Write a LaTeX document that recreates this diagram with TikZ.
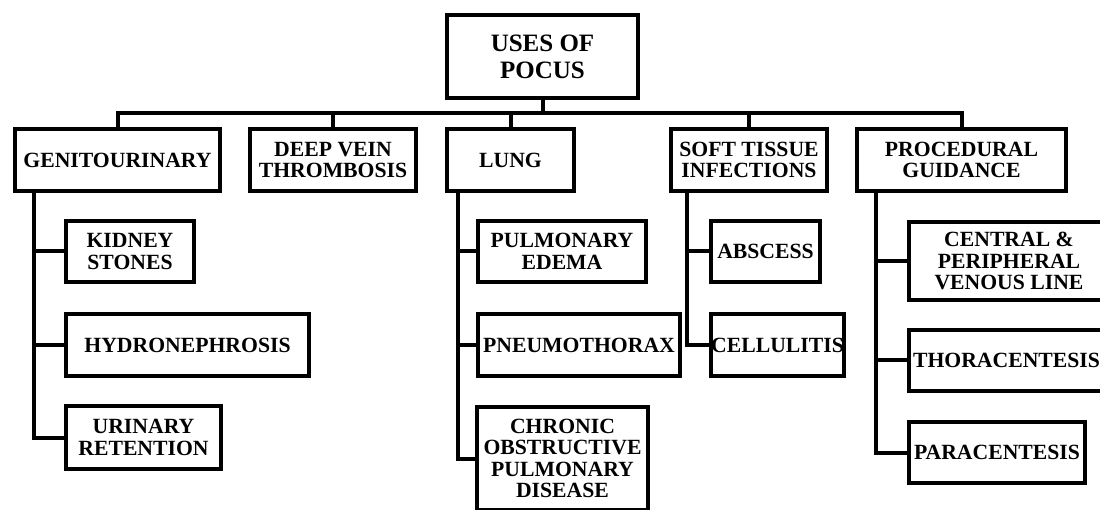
\documentclass[tikz,border=0pt]{standalone}
\usepackage{fontspec}
\setmainfont{Liberation Serif}
\usepackage{tikz}

\tikzset{
  box/.style={draw, line width=4pt, inner sep=0pt, align=center,
    font=\bfseries\fontsize{21.7}{21.5}\selectfont},
  link/.style={line width=4pt}
}

\begin{document}
\begin{tikzpicture}[x=1pt, y=-1pt]
\useasboundingbox (0,0) rectangle (1100,510);

% root
\node[box, minimum width=191, minimum height=83,
  font=\bfseries\fontsize{25}{27}\selectfont] (root) at (542.5,56.5) {USES OF\\POCUS};

% first level
\node[box, minimum width=205, minimum height=62] (gen) at (117.5,160) {GENITOURINARY};
\node[box, minimum width=166, minimum height=62] (dvt) at (333,160) {DEEP VEIN\\THROMBOSIS};
\node[box, minimum width=127, minimum height=62] (lung) at (510.5,160) {LUNG};
\node[box, minimum width=156, minimum height=62] (soft) at (749,160) {SOFT TISSUE\\INFECTIONS};
\node[box, minimum width=209, minimum height=62] (proc) at (961.5,160) {PROCEDURAL\\GUIDANCE};

\coordinate (bus) at (542.5,113);
\foreach \n in {gen,dvt,lung,soft,proc}
  \draw[link] (root.south) -- (root.south |- bus) -| (\n.north);

% genitourinary
\node[box, minimum width=128, minimum height=61] (kidney) at (130,251.5) {KIDNEY\\STONES};
\node[box, minimum width=243, minimum height=62] (hydro) at (187.5,345) {HYDRONEPHROSIS};
\node[box, minimum width=155, minimum height=63] (urinary) at (143.5,437.5) {URINARY\\RETENTION};

% lung
\node[box, minimum width=168, minimum height=61] (edema) at (562,251.5) {PULMONARY\\EDEMA};
\node[box, minimum width=202, minimum height=62] (pneumo) at (579,345) {PNEUMOTHORAX};
\node[box, minimum width=171, minimum height=103] (copd) at (562.5,458.5) {CHRONIC\\OBSTRUCTIVE\\PULMONARY\\DISEASE};

% soft tissue
\node[box, minimum width=109, minimum height=61] (abscess) at (765.5,251.5) {ABSCESS};
\node[box, minimum width=133, minimum height=62] (cellulitis) at (777.5,345) {CELLULITIS};

% procedures
\node[box, minimum width=200, minimum height=78] (venous) at (1009,261) {CENTRAL \&\\PERIPHERAL\\VENOUS LINE};
\node[box, minimum width=195, minimum height=61] (thora) at (1006.5,360.5) {THORACENTESIS};
\node[box, minimum width=176, minimum height=61] (para) at (997,452.5) {PARACENTESIS};

\coordinate (gtrunk) at (34,191);
\coordinate (ltrunk) at (458,191);
\coordinate (strunk) at (687,191);
\coordinate (ptrunk) at (876,191);

\foreach \c in {kidney,hydro,urinary}
  \draw[link] (gtrunk) |- (\c.west);
\foreach \c in {edema,pneumo,copd}
  \draw[link] (ltrunk) |- (\c.west);
\foreach \c in {abscess,cellulitis}
  \draw[link] (strunk) |- (\c.west);
\foreach \c in {venous,thora,para}
  \draw[link] (ptrunk) |- (\c.west);

\end{tikzpicture}
\end{document}
